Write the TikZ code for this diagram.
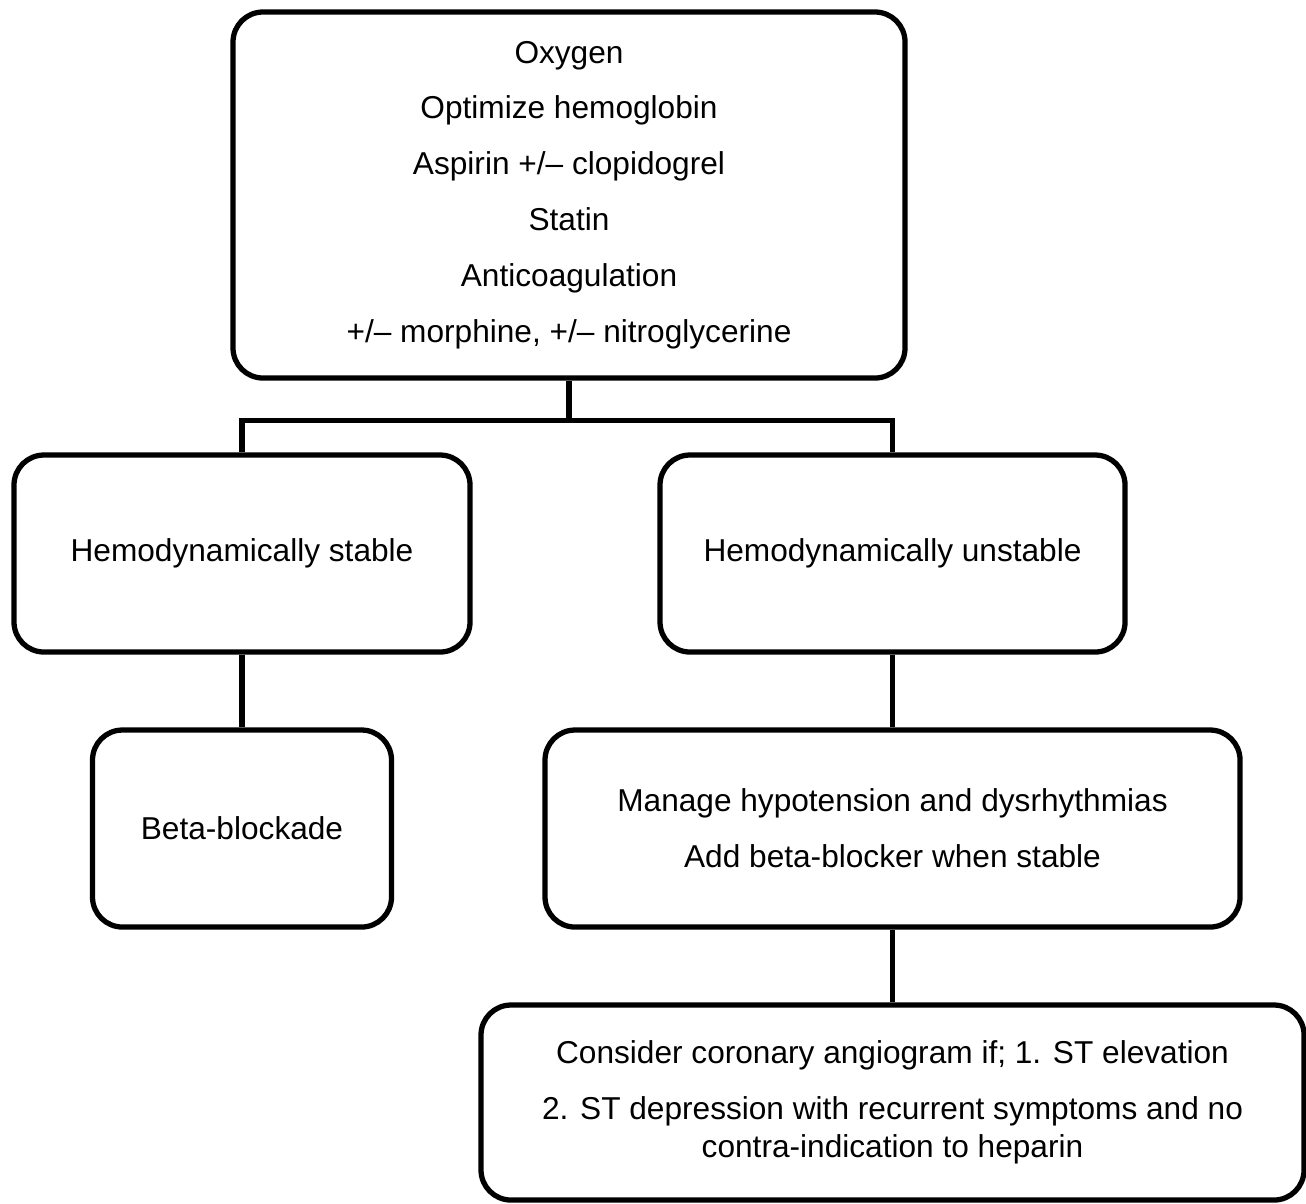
\documentclass[tikz,border=0pt]{standalone}
\usepackage{fontspec}
\setmainfont{Liberation Sans}
\begin{document}
\begin{tikzpicture}[line width=1.5pt,
	box/.style={draw, rounded corners=0.3cm, align=center, inner sep=0pt,
		font=\fontsize{9}{15.9}\selectfont}]
	\useasboundingbox (0, 0) rectangle (13.06, -12.03);

	% Top box
	\node[box, minimum width=6.72cm, minimum height=3.66cm] (oxy) at (5.69, -1.95)
		{Oxygen\\Optimize hemoglobin\\Aspirin +/-- clopidogrel\\Statin\\Anticoagulation\\+/-- morphine, +/-- nitroglycerine};

	% Stable / unstable
	\node[box, minimum width=4.56cm, minimum height=1.97cm] (stable) at (2.42, -5.535) {Hemodynamically stable};
	\node[box, minimum width=4.65cm, minimum height=1.97cm] (unstable) at (8.925, -5.535) {Hemodynamically unstable};

	% Next steps
	\node[box, minimum width=2.99cm, minimum height=1.97cm] (beta) at (2.42, -8.285) {Beta-blockade};
	\node[box, minimum width=6.95cm, minimum height=1.97cm] (manage) at (8.925, -8.285)
		{Manage hypotension and dysrhythmias\\Add beta-blocker when stable};

	% Angiogram
	\node[box, minimum width=8.23cm, minimum height=1.95cm] (angio) at (8.925, -11.025)
		{Consider coronary angiogram if; 1. ST elevation\\2. ST depression with recurrent symptoms and no\\[-5.1pt]contra-indication to heparin};

	% Lines
	\draw (oxy.south) -- ++(0, -0.4) coordinate (split);
	\draw (stable.north) |- (split) -| (unstable.north);
	\draw (stable) -- (beta);
	\draw (unstable) -- (manage);
	\draw (manage) -- (angio);
\end{tikzpicture}
\end{document}
